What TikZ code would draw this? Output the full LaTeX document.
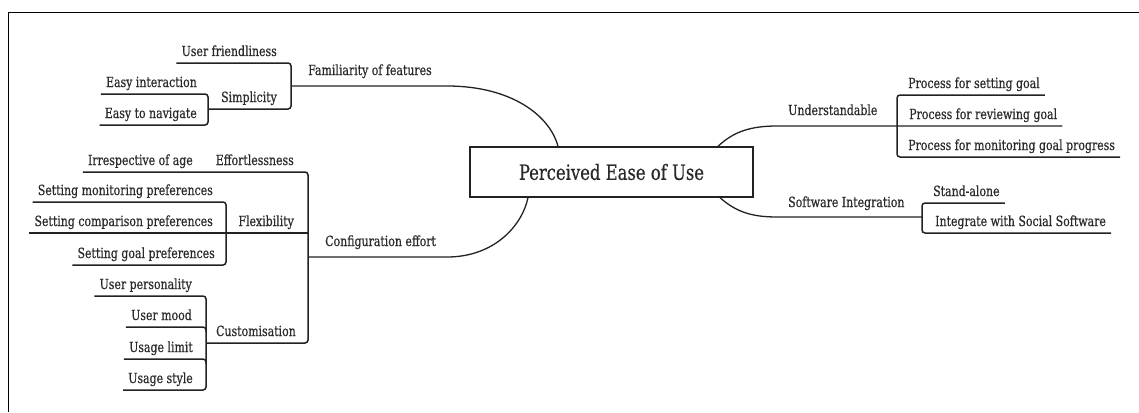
\documentclass[tikz,border=0pt]{standalone}
\usepackage{fontspec}
\setmainfont{DejaVu Serif Condensed}[FakeStretch=0.87,FakeBold=0.5]
\begin{document}
\definecolor{ink}{HTML}{222222}
\definecolor{txt}{HTML}{2a2a2a}
\begin{tikzpicture}[x=1pt,y=-1pt,
  lbl/.style={inner xsep=5pt, inner ysep=0pt, text=txt, font=\fontsize{14}{16}\selectfont},
  lft/.style={lbl, anchor=base east},
  rgt/.style={lbl, anchor=base west},
  core/.style={draw=ink, line width=1.3pt, fill=white, minimum width=283pt, minimum height=50pt,
    inner sep=0pt, text=txt, font=\fontsize{21}{25}\selectfont},
  branch/.style={draw=ink, line width=1.5pt, rounded corners=3pt},
  trunk/.style={draw=ink, line width=1.3pt}]
\useasboundingbox (0,0) rectangle (1139,412);
% page frame (top and left edges only)
\draw[black, line width=1pt] (8,412) -- (8,13) -- (1139,13);

% ---- central topic
\node[core] (pe) at (611.5,172) {Perceived Ease of Use};

% ---- labels, upper left tree
\node[rgt] (fam) at (303,75) {Familiarity of features};
\node[lft] (uf)  at (282,56) {User friendliness};
\node[lft] (sim) at (282,102) {Simplicity};
\node[lft] (ei)  at (202,87) {Easy interaction};
\node[lft] (en)  at (202,118) {Easy to navigate};

% ---- labels, lower left tree
\node[rgt] (cfg) at (320,246) {Configuration effort};
\node[lft] (eff) at (299,165) {Effortlessness};
\node[lft] (ia)  at (198,165) {Irrespective of age};
\node[lft] (flx) at (299,226) {Flexibility};
\node[lft] (sm)  at (218,195) {Setting monitoring preferences};
\node[lft] (sc)  at (218,226) {Setting comparison preferences};
\node[lft] (sg)  at (220,258) {Setting goal preferences};
\node[lft] (cus) at (301,336) {Customisation};
\node[lft] (up)  at (197,289) {User personality};
\node[lft] (um)  at (197,320) {User mood};
\node[lft] (ul)  at (198,352) {Usage limit};
\node[lft] (us)  at (198,383) {Usage style};

% ---- labels, right trees
\node[rgt] (und) at (783,115) {Understandable};
\node[rgt] (ps)  at (903,88) {Process for setting goal};
\node[rgt] (pr)  at (904,119) {Process for reviewing goal};
\node[rgt] (pm)  at (903,150) {Process for monitoring goal progress};
\node[rgt] (swi) at (783,207) {Software Integration};
\node[rgt] (sa)  at (928,196) {Stand-alone};
\node[rgt] (iw)  at (930,226) {Integrate with Social Software};

% ---- junction points
\coordinate (famT) at (291,63);  \coordinate (famM) at (291,86);  \coordinate (famB) at (291,109);
\coordinate (famE) at (447,86);  \coordinate (famX) at (558,0);
\coordinate (simT) at (208,94);  \coordinate (simB) at (208,125); \coordinate (simM) at (208,109);
\coordinate (cfT) at (308,172);  \coordinate (cfF) at (308,233);  \coordinate (cfM) at (308,257);
\coordinate (cfB) at (308,343);  \coordinate (cfE) at (447,257);  \coordinate (cfX) at (528,0);
\coordinate (flT) at (226,202);  \coordinate (flB) at (226,265);
\coordinate (cuT) at (206,296);  \coordinate (cu2) at (206,327);  \coordinate (cu3) at (206,359);
\coordinate (cuB) at (206,390);  \coordinate (cuM) at (206,343);
\coordinate (unX) at (718,0);    \coordinate (unS) at (777,126);
\coordinate (unT) at (897,95);   \coordinate (unM) at (897,126);  \coordinate (unB) at (897,157);
\coordinate (siX) at (720,0);    \coordinate (siS) at (777,217);
\coordinate (siT) at (922,203);  \coordinate (siM) at (922,217);  \coordinate (siB) at (922,233);

% ---- trunks from the central topic
\draw[trunk] (famM) -- (famE) .. controls (512,86) and (550,116) .. (pe.north -| famX);
\draw[trunk] (cfM) -- (cfE) .. controls (494,257) and (522,226) .. (pe.south -| cfX);
\draw[trunk] (pe.north -| unX) .. controls (734,131) and (752,126) .. (unS) -- (pr.east |- unM);
\draw[trunk] (pe.south -| siX) .. controls (736,212) and (752,217) .. (siS) -- (siM);

% ---- brackets and underlines
\draw[branch] (uf.west |- famT) -- (famT) -- (famB) -- (simM);
\draw[branch] (ei.west |- simT) -- (simT) -- (simB) -- (en.west |- simB);

\draw[branch] (ia.west |- cfT) -- (cfT) -- (cfB) -- (cuM);
\draw[branch] (sc.west |- cfF) -- (cfF);
\draw[branch] (sm.west |- flT) -- (flT) -- (flB) -- (sg.west |- flB);
\draw[branch] (up.west |- cuT) -- (cuT) -- (cuB) -- (us.west |- cuB);
\draw[branch] (um.west |- cu2) -- (cu2) -- ++(0,5);
\draw[branch] (ul.west |- cu3) -- (cu3) -- ++(0,5);

\draw[branch] (ps.east |- unT) -- (unT) -- (unB) -- (pm.east |- unB);
\draw[branch] (sa.east |- siT) -- (siT) -- (siB) -- (iw.east |- siB);
\end{tikzpicture}
\end{document}
